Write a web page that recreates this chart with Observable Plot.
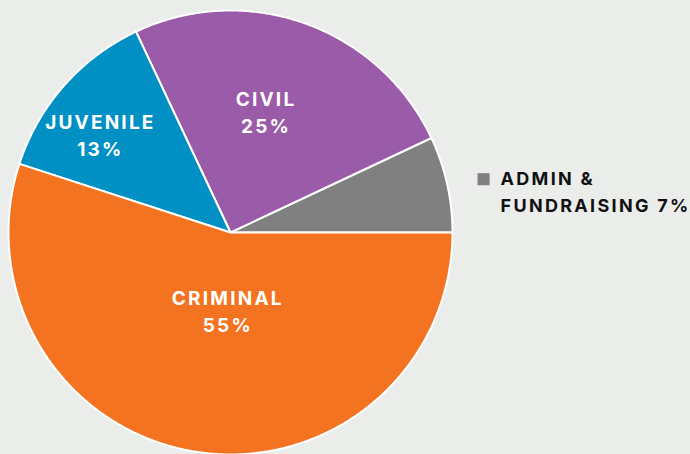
<!DOCTYPE html>
<html>
<head>
<meta charset="utf-8">
<script src="https://cdn.jsdelivr.net/npm/d3@7"></script>
<script src="https://cdn.jsdelivr.net/npm/@observablehq/plot@0.6"></script>
<style>
  html, body { margin: 0; padding: 0; background: #ebedea; }
  #chart svg { display: block; }
</style>
</head>
<body>
<div id="chart"></div>
<script>
const categories = ["ADMIN & FUNDRAISING", "CIVIL", "JUVENILE", "CRIMINAL"];
const shortNames = ["ADMIN &\nFUNDRAISING", "CIVIL", "JUVENILE", "CRIMINAL"];
const values = [7, 25, 13, 55];
const colors = ["#808080", "#9a5ba8", "#0090c4", "#f47321"];

const total = d3.sum(values);
let acc = 0;
const slices = values.map((v, i) => {
  const a0 = acc / total * 2 * Math.PI;
  acc += v;
  const a1 = acc / total * 2 * Math.PI;
  return {cat: categories[i], name: shortNames[i], value: v, a0, a1, mid: (a0 + a1) / 2};
});
const pts = [];
for (const s of slices) {
  pts.push({cat: s.cat, x: 0, y: 0});
  const n = Math.max(2, Math.ceil((s.a1 - s.a0) / (Math.PI / 360)));
  for (let k = 0; k <= n; k++) {
    const a = s.a0 + (s.a1 - s.a0) * k / n;
    pts.push({cat: s.cat, x: Math.cos(a), y: Math.sin(a)});
  }
}

// label placement (layout only): radius fraction and angle adjustment per slice
const labelLayout = {
  "CIVIL": {r: 0.57, da: 3.5},
  "JUVENILE": {r: 0.735, da: 4.3},
  "CRIMINAL": {r: 0.35, da: 7}
};
const inner = slices.filter(s => labelLayout[s.cat]).map(s => {
  const L = labelLayout[s.cat];
  const a = s.mid + L.da * Math.PI / 180;
  return {x: L.r * Math.cos(a), y: L.r * Math.sin(a), text: s.name + "\n" + s.value + "%"};
});
const admin = slices[0];

const chart = Plot.plot({
  width: 690,
  height: 454,
  margin: 0,
  style: {background: "#ebedea", fontFamily: "Inter, Roboto, sans-serif"},
  x: {domain: [-1, 1], range: [8, 452], axis: null},
  y: {domain: [-1, 1], range: [454, 10], axis: null},
  color: {domain: categories, range: colors},
  marks: [
    Plot.line(pts, {x: "x", y: "y", z: "cat", fill: "cat", stroke: "white", strokeWidth: 2, curve: "linear-closed", strokeLinejoin: "round"}),
    Plot.text(inner, {x: "x", y: "y", text: "text", fill: "white", fontSize: 19, fontWeight: 700, lineHeight: 1.38, lineAnchor: "middle", textAnchor: "middle", className: "inner"}),
    Plot.dot([admin], {x: () => 1.14, y: () => 0.24, symbol: "square", r: 6.8, fill: "cat", stroke: null}),
    Plot.text([admin], {x: () => 1.14, y: () => 0.24, dx: 17, dy: -13, text: d => d.name + " " + d.value + "%", fill: "#111", fontSize: 18, fontWeight: 700, lineHeight: 1.48, lineAnchor: "top", textAnchor: "start", className: "legend"})
  ]
});
chart.querySelectorAll("g.inner text").forEach(t => t.setAttribute("letter-spacing", "2.2"));
chart.querySelectorAll("g.legend text").forEach(t => t.setAttribute("letter-spacing", "2.3"));
document.getElementById("chart").appendChild(chart);
</script>
</body>
</html>
